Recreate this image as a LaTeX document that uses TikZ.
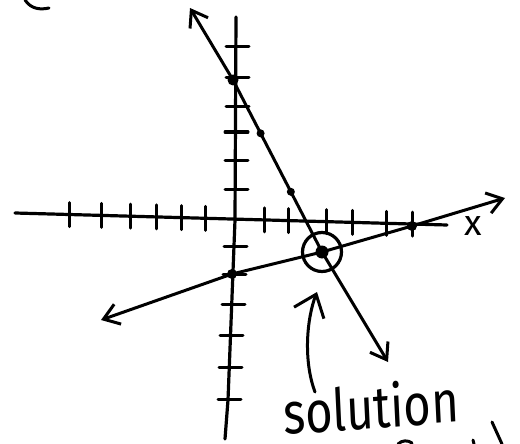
\documentclass[tikz,border=0pt]{standalone}
\usepackage{fontspec}
\usetikzlibrary{arrows.meta,positioning,calc}
\newfontfamily\handfont{Fira Sans}

\begin{document}
\begin{tikzpicture}[
  x=1pt, y=-1pt,
  line cap=round, line join=round,
  axisline/.style={line width=3.2pt},
  tickmark/.style={line width=3pt},
  graphline/.style={line width=3pt},
  barbs/.style={{Straight Barb[length=15pt,width=21pt]}-{Straight Barb[length=15pt,width=21pt]}},
  dot/.style={circle, fill, inner sep=0pt, minimum size=10pt},
  ring/.style={circle, draw, line width=3.2pt, inner sep=0pt, minimum size=39pt},
  hand/.style={font=\handfont\fontsize{42}{42}\selectfont, inner sep=0pt}
]
\fill[white] (0,0) rectangle (520,444);
\useasboundingbox (0,0) rectangle (520,444);

% Axes
\coordinate (xl) at (15,213);
\coordinate (xr) at (447,225);
\draw[axisline] (xl) -- (xr);
\coordinate (yt) at (236,17);
\coordinate (ym) at (235,220);
\coordinate (yl) at (228,400);
\coordinate (yb) at (225,439);
\draw[axisline] (yt) -- (ym) -- (yl) -- (yb);

\foreach \x in {70,102,131,157,182,206,265,289,327,353,387,412}
  \draw[tickmark] ($(xl)!{(\x-15)/432}!(xr)$) ++(0,-12) -- ++(0,24);
\foreach \x/\y in {236/47,236/78,236/107,235/132,235/160,235/189,234/246,233/274,232/304,230/335,229/367,228/399}
  \draw[tickmark] (\x-10,\y) -- (\x+13,\y);

\node[hand, font=\handfont\fontsize{36}{36}\selectfont] (xlabel) at (473,226) {x};

% First line
\node[dot, minimum size=11pt] (a1) at (233,80) {};
\node[dot, minimum size=13pt] (sol) at (322,252) {};
\node[dot, minimum size=8pt] (a2) at ($(a1)!0.31!(sol)$) {};
\node[dot, minimum size=8pt] (a3) at ($(a1)!0.65!(sol)$) {};
\coordinate (a0) at (190,8);
\coordinate (a4) at (388,362);
\draw[graphline, barbs] (a0) -- (a1.center) -- (sol.center) -- (a4);

% Second line
\node[dot] (b1) at (232,274) {};
\node[dot] (b2) at (412,226) {};
\coordinate (b0) at (101,320);
\coordinate (b3) at (505,198);
\draw[graphline, barbs] (b0) -- (b1.center) -- (sol.center) -- (b2.center) -- (b3);

\node[ring] (solring) at (sol) {};

% Label
\node[hand, anchor=base west, xscale=1.12, yscale=1.4, rotate=3.4] (soltext) at (284,435) {solution};
\coordinate (cs) at (315,392);
\coordinate (ce) at (317,292);
\draw[graphline, -{Straight Barb[length=20pt,width=32pt]}] (cs) .. controls (303,360) and (307,318) .. (ce);

% cut-off strokes at the edges
\draw[graphline] (25,0) .. controls (31,9) and (40,10) .. (49,8);
\draw[graphline] (492,422) -- (502,444);
\draw[graphline] (473,440) -- (474,444);
\draw[graphline] (398,444) .. controls (402,440) and (408,440) .. (412,443);

\end{tikzpicture}
\end{document}
